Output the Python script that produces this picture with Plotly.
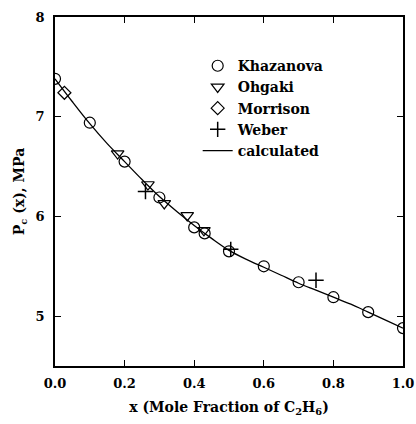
import plotly.graph_objects as go

# Khazanova (circles)
khaz_x = [0.0, 0.1, 0.2, 0.3, 0.4, 0.43, 0.5, 0.6, 0.7, 0.8, 0.9, 1.0]
khaz_y = [7.38, 6.94, 6.55, 6.19, 5.89, 5.83, 5.65, 5.50, 5.34, 5.19, 5.04, 4.88]
# Ohgaki (down triangles)
ohg_x = [0.18, 0.267, 0.314, 0.38, 0.428]
ohg_y = [6.63, 6.32, 6.13, 6.01, 5.86]
# Morrison (diamonds)
mor_x = [0.027]
mor_y = [7.24]
# Weber (plus)
web_x = [0.26, 0.505, 0.75]
web_y = [6.25, 5.67, 5.36]
# calculated curve
calc_x = [0.0, 0.05, 0.1, 0.15, 0.2, 0.25, 0.3, 0.35, 0.4, 0.45, 0.5,
          0.55, 0.6, 0.65, 0.7, 0.75, 0.8, 0.85, 0.9, 0.95, 1.0]
calc_y = [7.38, 7.15, 6.93, 6.73, 6.55, 6.37, 6.20, 6.05, 5.91, 5.78, 5.66,
          5.57, 5.49, 5.41, 5.33, 5.26, 5.19, 5.12, 5.04, 4.96, 4.88]

x_ticks = [0.0, 0.2, 0.4, 0.6, 0.8, 1.0]
x_labels = ["0.0", "0.2", "0.4", "0.6", "0.8", "1.0"]
y_ticks = [5, 6, 7, 8]

FAM = "DejaVu Serif"
TICKFONT = dict(family=FAM, size=13, color="black", weight="bold")
TITLEFONT = dict(family=FAM, size=14, color="black", weight="bold")
LEGFONT = dict(family=FAM, size=14, color="black", weight="bold")
mk_line = dict(color="black", width=1.2)

fig = go.Figure()
fig.add_trace(go.Scatter(x=khaz_x, y=khaz_y, mode="markers", name="Khazanova",
                         marker=dict(symbol="circle-open", size=11, line=mk_line, color="black")))
fig.add_trace(go.Scatter(x=ohg_x, y=ohg_y, mode="markers", name="Ohgaki",
                         marker=dict(symbol="triangle-down-open", size=11, line=mk_line, color="black")))
fig.add_trace(go.Scatter(x=mor_x, y=mor_y, mode="markers", name="Morrison",
                         marker=dict(symbol="diamond-open", size=10, line=mk_line, color="black")))
fig.add_trace(go.Scatter(x=web_x, y=web_y, mode="markers", name="Weber",
                         marker=dict(symbol="cross-thin-open", size=11, line=dict(color="black", width=1.5), color="black")))
fig.add_trace(go.Scatter(x=calc_x, y=calc_y, mode="lines", name="calculated",
                         line=dict(color="black", width=1.3, shape="spline")))

fig.update_layout(
    width=416, height=424,
    margin=dict(l=55, r=13, t=17, b=58),
    paper_bgcolor="white", plot_bgcolor="white",
    font=TICKFONT,
    legend=dict(x=0.41, y=0.905, xanchor="left", yanchor="top",
                bgcolor="rgba(0,0,0,0)", font=LEGFONT,
                itemwidth=30, tracegroupgap=0),
    xaxis=dict(range=[0, 1.0], tickvals=x_ticks, ticktext=x_labels, tickfont=TICKFONT,
               ticks="inside", ticklen=6, tickwidth=1.2, tickcolor="black",
               ticklabelstandoff=5,
               showline=True, linecolor="black", linewidth=1.5, mirror="ticks",
               showgrid=False, zeroline=False, automargin=False,
               title=dict(text="x (Mole Fraction of C<sub>2</sub>H<sub>6</sub>)", standoff=12,
                          font=TITLEFONT)),
    yaxis=dict(range=[4.5, 8.0], tickvals=y_ticks, tickfont=TICKFONT,
               ticks="inside", ticklen=6, tickwidth=1.2, tickcolor="black",
               ticklabelstandoff=6,
               showline=True, linecolor="black", linewidth=1.5, mirror="ticks",
               showgrid=False, zeroline=False, automargin=False,
               title=dict(text="P<sub>c</sub> (x), MPa", standoff=8,
                          font=TITLEFONT)),
)

fig.write_html("out.html", config={"displayModeBar": False},
               post_script="document.body.style.margin='0';document.body.style.overflow='hidden';")
